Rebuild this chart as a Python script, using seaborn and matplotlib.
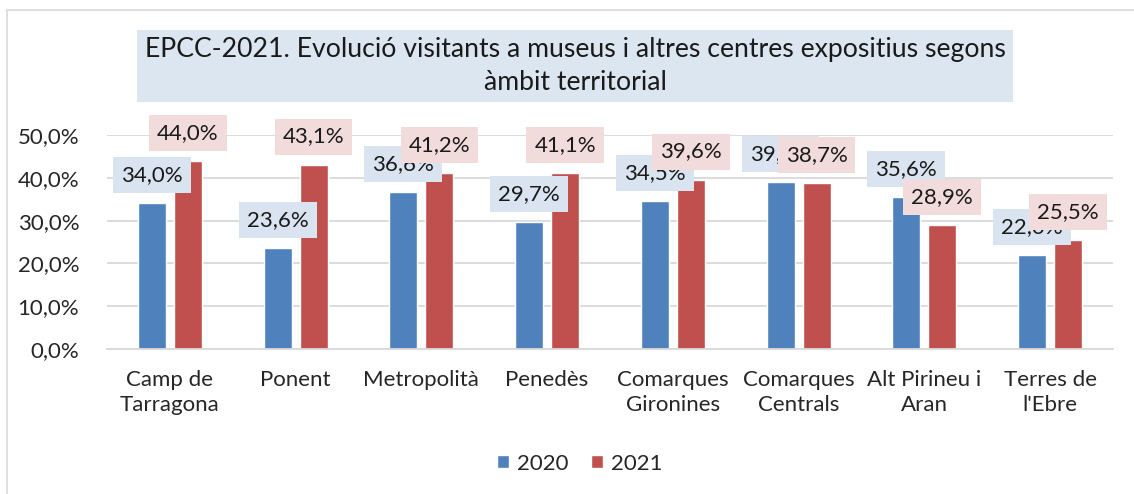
import matplotlib
matplotlib.use("Agg")
import matplotlib.pyplot as plt
import seaborn as sns
import pandas as pd
from matplotlib.patches import Rectangle

regions = ["Camp de\nTarragona", "Ponent", "Metropolità", "Penedès",
           "Comarques\nGironines", "Comarques\nCentrals", "Alt Pirineu i\nAran",
           "Terres de\nl'Ebre"]
years = ["2020", "2021"]
values_2020 = [34.0, 23.6, 36.6, 29.7, 34.5, 39.1, 35.6, 22.0]
values_2021 = [44.0, 43.1, 41.2, 41.1, 39.6, 38.7, 28.9, 25.5]
title = "EPCC-2021. Evolució visitants a museus i altres centres expositius segons\nàmbit territorial"

colors = {"2020": "#4f81bd", "2021": "#c0504d"}
label_bg = {"2020": "#dae3f0", "2021": "#f2dcdb"}

df = pd.DataFrame({
    "region": regions * 2,
    "year": ["2020"] * len(regions) + ["2021"] * len(regions),
    "value": values_2020 + values_2021,
})

sns.set_theme(style="white")
plt.rcParams["font.family"] = ["Lato", "DejaVu Sans"]

fig = plt.figure(figsize=(11.34, 4.94), dpi=100)
ax = fig.add_axes([0.0944, 0.2935, 0.887, 0.4332])

sns.barplot(data=df, x="region", y="value", hue="year", palette=colors,
            width=0.572, gap=0.22, ax=ax, legend=True, saturation=1, zorder=2)

ax.set_ylim(0, 50)
ax.set_xlim(-0.5, len(regions) - 0.5)
ax.set_yticks(range(0, 51, 10))
ax.set_yticklabels([f"{v},0%" for v in range(0, 51, 10)], fontsize=16)
ax.tick_params(axis="x", labelsize=16, length=0, pad=15)
ax.tick_params(axis="y", length=0, pad=20)
for t in ax.get_xticklabels():
    t.set_linespacing(1.3)
ax.set_xlabel("")
ax.set_ylabel("")
ax.yaxis.grid(True, color="#d9d9d9", linewidth=1.3, zorder=0)
ax.set_axisbelow(True)
for s in ["top", "right", "left"]:
    ax.spines[s].set_visible(False)
ax.spines["bottom"].set_color("#d9d9d9")
ax.spines["bottom"].set_linewidth(1.3)

# value labels with coloured boxes, 2021 boxes drawn on top of 2020 boxes
for j, (year, vals) in enumerate([("2020", values_2020), ("2021", values_2021)]):
    container = ax.containers[j]
    for bar, v in zip(container, vals):
        cx = bar.get_x() + bar.get_width() / 2
        ax.annotate(f"{v:.1f}%".replace(".", ","), xy=(cx, v),
                    xytext=(0, 28), textcoords="offset pixels",
                    ha="center", va="center", fontsize=16, color="#1a1a1a",
                    zorder=4 + j,
                    bbox=dict(boxstyle="square,pad=0.36", fc=label_bg[year],
                              ec="none"))

leg = ax.legend(loc="center", bbox_to_anchor=(0.47, -0.535), ncol=2,
                frameon=False, fontsize=16, handlelength=0.55, handleheight=0.55,
                columnspacing=1.0, handletextpad=0.35)

# title box
fig.text(0.507, 0.866, title, ha="center", va="center", fontsize=19.2,
         color="#1a1a1a", linespacing=1.38,
         bbox=dict(boxstyle="square,pad=0.27", fc="#dce6f1", ec="none"))

# outer frame
fig.patches.append(Rectangle((0.006, -0.01), 1.0, 0.99, transform=fig.transFigure,
                             fill=False, ec="#d9d9d9", lw=1.2))

fig.savefig("out.png", dpi=100)
